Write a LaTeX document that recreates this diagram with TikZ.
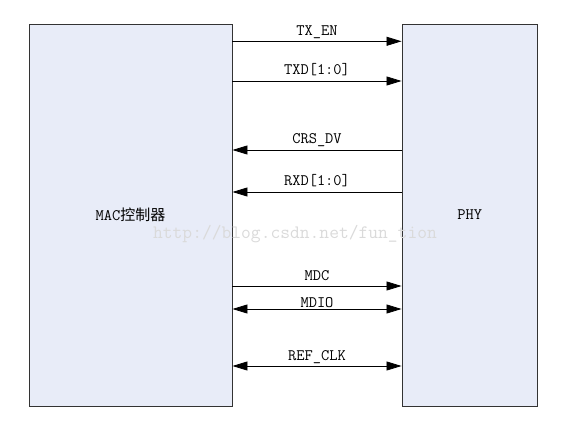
\documentclass[tikz,border=0pt]{standalone}
\usepackage{fontspec}
\newfontfamily\cjk{Noto Sans CJK SC}
\usetikzlibrary{arrows.meta}
\definecolor{boxfill}{HTML}{E8ECF8}
\definecolor{markgray}{HTML}{DADADA}
\newcommand{\sigfont}{\fontsize{16}{18}\selectfont\ttfamily\addfontfeatures{FakeStretch=0.92}}
\tikzset{
  block/.style  = {shape=rectangle, draw=black!80, line width=0.9pt,
                   fill=boxfill, inner sep=0pt, font=\sigfont},
  sig/.style    = {draw, line width=0.8pt, -{Triangle[length=15pt,width=9pt]}},
  bisig/.style  = {sig, {Triangle[length=15pt,width=9pt]}-{Triangle[length=15pt,width=9pt]}},
  lbl/.style    = {inner sep=0pt, anchor=base, yshift=6pt, font=\sigfont},
  watermark/.style = {inner sep=0pt, anchor=base, text=markgray,
                   font=\fontsize{19}{21}\selectfont\ttfamily}
}
\begin{document}
\begin{tikzpicture}[x=1pt,y=-1pt]
  \useasboundingbox (0,0) rectangle (572,443);

  % the two blocks
  \node[block, minimum width=203pt, minimum height=382pt] (mac) at (130.5,215)
    {MAC{\cjk\fontsize{15}{17}\selectfont 控制器}};
  \node[block, minimum width=135.5pt, minimum height=382pt] (phy) at (469.75,215)
    {PHY};

  % watermark
  \node[watermark] (wm) at (295,239) {http://blog.csdn.net/fun\_tion};

  % signals MAC -> PHY
  \draw[sig] (mac.east |- 0,41.3) -- (phy.west |- 0,41.3)
    node[lbl, midway] {TX\_EN};
  \draw[sig] (mac.east |- 0,81) -- (phy.west |- 0,81)
    node[lbl, midway] {TXD[1:0]};

  % signals PHY -> MAC
  \draw[sig] (phy.west |- 0,150) -- (mac.east |- 0,150)
    node[lbl, midway] {CRS\_DV};
  \draw[sig] (phy.west |- 0,192) -- (mac.east |- 0,192)
    node[lbl, midway] {RXD[1:0]};

  % management and clock
  \draw[sig] (mac.east |- 0,286) -- (phy.west |- 0,286)
    node[lbl, midway] {MDC};
  \draw[bisig] (mac.east |- 0,309) -- (phy.west |- 0,309)
    node[lbl, midway, yshift=-4.5pt] {MDIO};
  \draw[bisig] (mac.east |- 0,366) -- (phy.west |- 0,366)
    node[lbl, midway] {REF\_CLK};
\end{tikzpicture}
\end{document}
